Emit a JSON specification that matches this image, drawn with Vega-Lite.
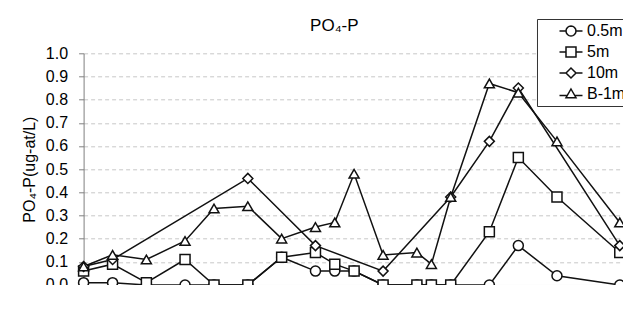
{
  "$schema": "https://vega.github.io/schema/vega-lite/v6.json",
  "width": 555.5,
  "height": 231.7,
  "autosize": {"type": "none"},
  "padding": {"left": 83.6, "top": 53.3, "right": 0, "bottom": 0},
  "background": "white",
  "title": {
    "text": "PO₄-P",
    "font": "Liberation Sans",
    "fontSize": 17,
    "fontWeight": "normal",
    "color": "#000000",
    "frame": "group",
    "anchor": "middle",
    "dx": -27,
    "baseline": "alphabetic",
    "offset": 0,
    "dy": 29
  },
  "config": {
    "view": {"stroke": null},
    "font": "Liberation Sans",
    "axis": {
      "labelFont": "Liberation Sans",
      "labelFontSize": 16,
      "labelColor": "#000000",
      "titleFont": "Liberation Sans",
      "titleFontSize": 16,
      "titleFontWeight": "normal",
      "titleColor": "#000000",
      "tickSize": 5,
      "tickColor": "#808080",
      "domainColor": "#808080",
      "domainWidth": 1,
      "tickWidth": 1
    }
  },
  "data": {
    "values": [
      {"date": "2009-05-21", "series": "0.5m", "value": 0.01},
      {"date": "2009-05-27", "series": "0.5m", "value": 0.01},
      {"date": "2009-06-03", "series": "0.5m", "value": 0.0},
      {"date": "2009-06-11", "series": "0.5m", "value": 0.0},
      {"date": "2009-06-17", "series": "0.5m", "value": 0.0},
      {"date": "2009-06-24", "series": "0.5m", "value": 0.0},
      {"date": "2009-07-01", "series": "0.5m", "value": 0.12},
      {"date": "2009-07-08", "series": "0.5m", "value": 0.06},
      {"date": "2009-07-12", "series": "0.5m", "value": 0.06},
      {"date": "2009-07-16", "series": "0.5m", "value": 0.06},
      {"date": "2009-07-22", "series": "0.5m", "value": 0.0},
      {"date": "2009-07-29", "series": "0.5m", "value": 0.0},
      {"date": "2009-08-01", "series": "0.5m", "value": 0.0},
      {"date": "2009-08-05", "series": "0.5m", "value": 0.0},
      {"date": "2009-08-13", "series": "0.5m", "value": 0.0},
      {"date": "2009-08-19", "series": "0.5m", "value": 0.17},
      {"date": "2009-08-27", "series": "0.5m", "value": 0.04},
      {"date": "2009-09-09", "series": "0.5m", "value": 0.0},
      {"date": "2009-05-21", "series": "5m", "value": 0.06},
      {"date": "2009-05-27", "series": "5m", "value": 0.09},
      {"date": "2009-06-03", "series": "5m", "value": 0.01},
      {"date": "2009-06-11", "series": "5m", "value": 0.11},
      {"date": "2009-06-17", "series": "5m", "value": 0.0},
      {"date": "2009-06-24", "series": "5m", "value": 0.0},
      {"date": "2009-07-01", "series": "5m", "value": 0.12},
      {"date": "2009-07-08", "series": "5m", "value": 0.14},
      {"date": "2009-07-12", "series": "5m", "value": 0.09},
      {"date": "2009-07-16", "series": "5m", "value": 0.06},
      {"date": "2009-07-22", "series": "5m", "value": 0.0},
      {"date": "2009-07-29", "series": "5m", "value": 0.0},
      {"date": "2009-08-01", "series": "5m", "value": 0.0},
      {"date": "2009-08-05", "series": "5m", "value": 0.0},
      {"date": "2009-08-13", "series": "5m", "value": 0.23},
      {"date": "2009-08-19", "series": "5m", "value": 0.55},
      {"date": "2009-08-27", "series": "5m", "value": 0.38},
      {"date": "2009-09-09", "series": "5m", "value": 0.14},
      {"date": "2009-05-21", "series": "10m", "value": 0.08},
      {"date": "2009-05-27", "series": "10m", "value": 0.11},
      {"date": "2009-06-24", "series": "10m", "value": 0.46},
      {"date": "2009-07-08", "series": "10m", "value": 0.17},
      {"date": "2009-07-22", "series": "10m", "value": 0.06},
      {"date": "2009-08-05", "series": "10m", "value": 0.38},
      {"date": "2009-08-13", "series": "10m", "value": 0.62},
      {"date": "2009-08-19", "series": "10m", "value": 0.85},
      {"date": "2009-09-09", "series": "10m", "value": 0.17},
      {"date": "2009-05-21", "series": "B-1m", "value": 0.08},
      {"date": "2009-05-27", "series": "B-1m", "value": 0.13},
      {"date": "2009-06-03", "series": "B-1m", "value": 0.11},
      {"date": "2009-06-11", "series": "B-1m", "value": 0.19},
      {"date": "2009-06-17", "series": "B-1m", "value": 0.33},
      {"date": "2009-06-24", "series": "B-1m", "value": 0.34},
      {"date": "2009-07-01", "series": "B-1m", "value": 0.2},
      {"date": "2009-07-08", "series": "B-1m", "value": 0.25},
      {"date": "2009-07-12", "series": "B-1m", "value": 0.27},
      {"date": "2009-07-16", "series": "B-1m", "value": 0.48},
      {"date": "2009-07-22", "series": "B-1m", "value": 0.13},
      {"date": "2009-07-29", "series": "B-1m", "value": 0.14},
      {"date": "2009-08-01", "series": "B-1m", "value": 0.09},
      {"date": "2009-08-05", "series": "B-1m", "value": 0.38},
      {"date": "2009-08-13", "series": "B-1m", "value": 0.87},
      {"date": "2009-08-19", "series": "B-1m", "value": 0.83},
      {"date": "2009-08-27", "series": "B-1m", "value": 0.62},
      {"date": "2009-09-09", "series": "B-1m", "value": 0.27}
    ]
  },
  "encoding": {
    "x": {
      "field": "date",
      "type": "temporal",
      "scale": {
        "type": "utc",
        "domain": [
          {"year": 2009, "month": 5, "date": 21, "utc": true},
          {"year": 2009, "month": 9, "date": 13, "utc": true}
        ]
      },
      "axis": {
        "title": null,
        "grid": false,
        "format": "%-m/%-d",
        "formatType": "utc",
        "values": [
          {"year": 2009, "month": 5, "date": 21, "utc": true},
          {"year": 2009, "month": 6, "date": 10, "utc": true},
          {"year": 2009, "month": 6, "date": 30, "utc": true},
          {"year": 2009, "month": 7, "date": 20, "utc": true},
          {"year": 2009, "month": 8, "date": 9, "utc": true},
          {"year": 2009, "month": 8, "date": 29, "utc": true}
        ],
        "labelPadding": 6,
        "domainColor": "#555555"
      }
    },
    "y": {
      "field": "value",
      "type": "quantitative",
      "scale": {"domain": [0, 1], "nice": false, "zero": true},
      "axis": {
        "title": "PO₄-P(ug-at/L)",
        "values": [0, 0.1, 0.2, 0.3, 0.4, 0.5, 0.6, 0.7, 0.8, 0.9, 1.0],
        "format": ".1f",
        "grid": true,
        "gridColor": "#c8c8c8",
        "gridDash": [4, 3],
        "gridWidth": 1,
        "labelPadding": 11,
        "titlePadding": 8
      }
    }
  },
  "layer": [
    {
      "mark": {"type": "line", "color": "#111111", "strokeWidth": 1.5},
      "encoding": {"detail": {"field": "series", "type": "nominal"}}
    },
    {
      "mark": {"type": "point", "filled": true, "fill": "white", "stroke": "#111111", "strokeWidth": 1.5, "size": 100, "opacity": 1},
      "encoding": {
        "shape": {
          "field": "series",
          "type": "nominal",
          "scale": {"domain": ["0.5m", "5m", "10m", "B-1m"], "range": ["circle", "square", "diamond", "triangle-up"]},
          "legend": null
        }
      }
    },
    {
      "transform": [{"filter": "false"}],
      "mark": {"type": "point", "filled": false, "fill": "white", "stroke": "#111111", "color": "#111111", "strokeWidth": 1.5, "size": 100, "opacity": 1},
      "encoding": {
        "shape": {
          "field": "series",
          "type": "nominal",
          "scale": {
            "domain": ["0.5m", "5m", "10m", "B-1m"],
            "range": [
              "M-2.3,0L-1,0M1,0L2.3,0M1,0L0.924,0.383L0.707,0.707L0.383,0.924L0,1L-0.383,0.924L-0.707,0.707L-0.924,0.383L-1,0L-0.924,-0.383L-0.707,-0.707L-0.383,-0.924L0,-1L0.383,-0.924L0.707,-0.707L0.924,-0.383Z",
              "M-2.3,0L-1,0M1,0L2.3,0M-1,-1L1,-1L1,1L-1,1Z",
              "M-2.3,0L-1,0M1,0L2.3,0M-1,0L0,-1L1,0L0,1Z",
              "M-2.3,0.3L-0.74,0.3M0.74,0.3L2.3,0.3M0,-1L1,0.75L-1,0.75Z"
            ]
          },
          "legend": {
            "orient": "none",
            "legendX": 453.4,
            "legendY": -34.3,
            "title": null,
            "labelFont": "Liberation Sans",
            "labelFontSize": 16,
            "labelColor": "#000000",
            "strokeColor": "#333333",
            "fillColor": "white",
            "padding": 4,
            "rowPadding": 5,
            "symbolSize": 100,
            "symbolStrokeWidth": 1.5,
            "symbolOffset": 22,
            "labelOffset": 8
          }
        }
      }
    }
  ],
  "resolve": {"scale": {"shape": "independent"}, "legend": {"shape": "independent"}}
}
